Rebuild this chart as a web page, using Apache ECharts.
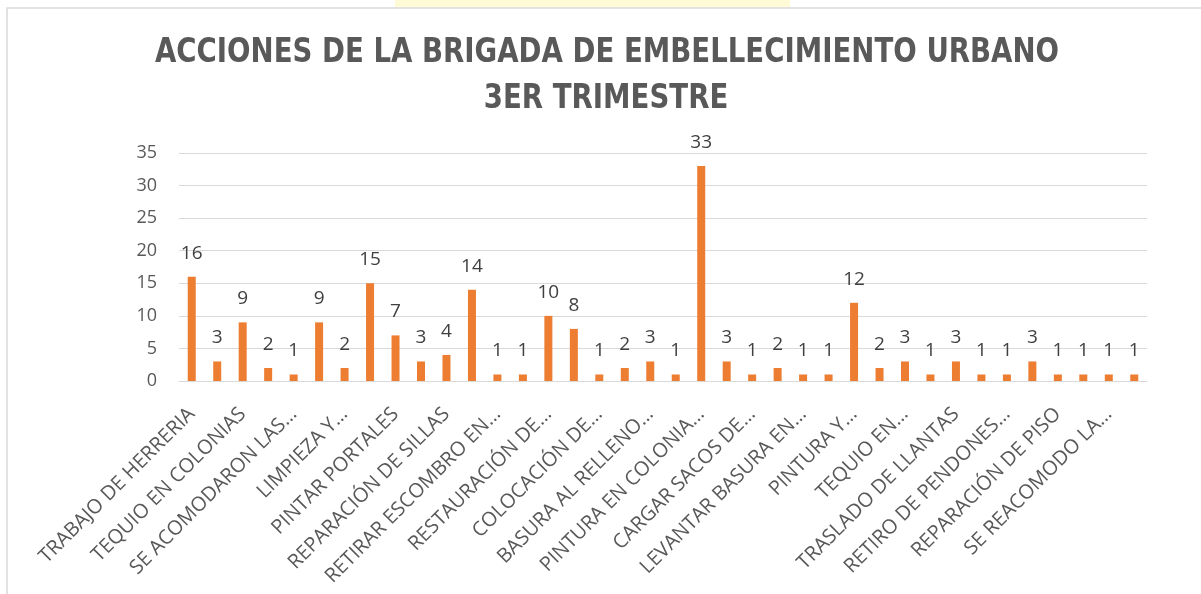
<!DOCTYPE html>
<html>
<head>
<meta charset="utf-8">
<script src="https://cdn.jsdelivr.net/npm/echarts@6/dist/echarts.min.js"></script>
<style>
html,body{margin:0;padding:0;background:#fff;}
#c{width:1201px;height:594px;}
</style>
</head>
<body>
<div id="c"></div>
<script>
// Categories (every other label is hidden in the source chart and not readable)
const categories = [
  'TRABAJO DE HERRERIA', '',
  'TEQUIO EN COLONIAS', '',
  'SE ACOMODARON LAS…', '',
  'LIMPIEZA Y…', '',
  'PINTAR PORTALES', '',
  'REPARACIÓN DE SILLAS', '',
  'RETIRAR ESCOMBRO EN…', '',
  'RESTAURACIÓN DE…', '',
  'COLOCACIÓN DE…', '',
  'BASURA AL RELLENO…', '',
  'PINTURA EN COLONIA…', '',
  'CARGAR SACOS DE…', '',
  'LEVANTAR BASURA EN…', '',
  'PINTURA Y…', '',
  'TEQUIO EN…', '',
  'TRASLADO DE LLANTAS', '',
  'RETIRO DE PENDONES…', '',
  'REPARACIÓN DE PISO', '',
  'SE REACOMODO LA…', ''
];
const values = [16, 3, 9, 2, 1, 9, 2, 15, 7, 3, 4, 14, 1, 1, 10, 8, 1, 2, 3, 1,
                33, 3, 1, 2, 1, 1, 12, 2, 3, 1, 3, 1, 1, 3, 1, 1, 1, 1];
const yTicks = { min: 0, max: 35, interval: 5 };
const titleLines = ['ACCIONES DE LA BRIGADA DE EMBELLECIMIENTO URBANO', '3ER TRIMESTRE'];

const titleFont = 'bold 33px "DejaVu Sans Condensed", "Liberation Sans Narrow", sans-serif';
const chart = echarts.init(document.getElementById('c'), null, { renderer: 'canvas' });
chart.setOption({
  backgroundColor: '#ffffff',
  animation: false,
  graphic: [
    { type: 'rect', shape: { x: 395, y: 0, width: 395, height: 7 }, style: { fill: '#fffbd6' }, z: -2 },
    { type: 'rect', shape: { x: 7, y: 8, width: 1300, height: 700 }, style: { fill: 'none', stroke: '#d9d9d9', lineWidth: 1.5 }, z: -1 },
    { type: 'text', x: 607, y: 53, scaleX: 0.93, style: { text: titleLines[0], font: titleFont, fill: '#595959', align: 'center', verticalAlign: 'middle' } },
    { type: 'text', x: 606, y: 99, scaleX: 0.93, style: { text: titleLines[1], font: titleFont, fill: '#595959', align: 'center', verticalAlign: 'middle' } }
  ],
  grid: { left: 179, right: 54, top: 153, bottom: 213, containLabel: false },
  xAxis: {
    type: 'category',
    data: categories,
    axisLine: { show: true, lineStyle: { color: '#d9d9d9', width: 1 } },
    axisTick: { show: false },
    axisLabel: {
      interval: 0,
      rotate: 45,
      margin: 30,
      fontFamily: '"Open Sans", sans-serif',
      fontSize: 20,
      color: '#595959'
    }
  },
  yAxis: {
    type: 'value',
    min: yTicks.min,
    max: yTicks.max,
    interval: yTicks.interval,
    axisLine: { show: false },
    axisTick: { show: false },
    splitLine: { lineStyle: { color: '#d9d9d9', width: 1 } },
    axisLabel: {
      margin: 22,
      fontFamily: '"Open Sans", sans-serif',
      fontSize: 18,
      color: '#595959'
    }
  },
  series: [{
    type: 'bar',
    data: values,
    barWidth: 8,
    itemStyle: { color: '#ED7D31' },
    label: {
      show: true,
      position: 'top',
      distance: 14,
      fontFamily: '"Open Sans", sans-serif',
      fontSize: 19,
      color: '#404040'
    }
  }]
});
</script>
</body>
</html>
